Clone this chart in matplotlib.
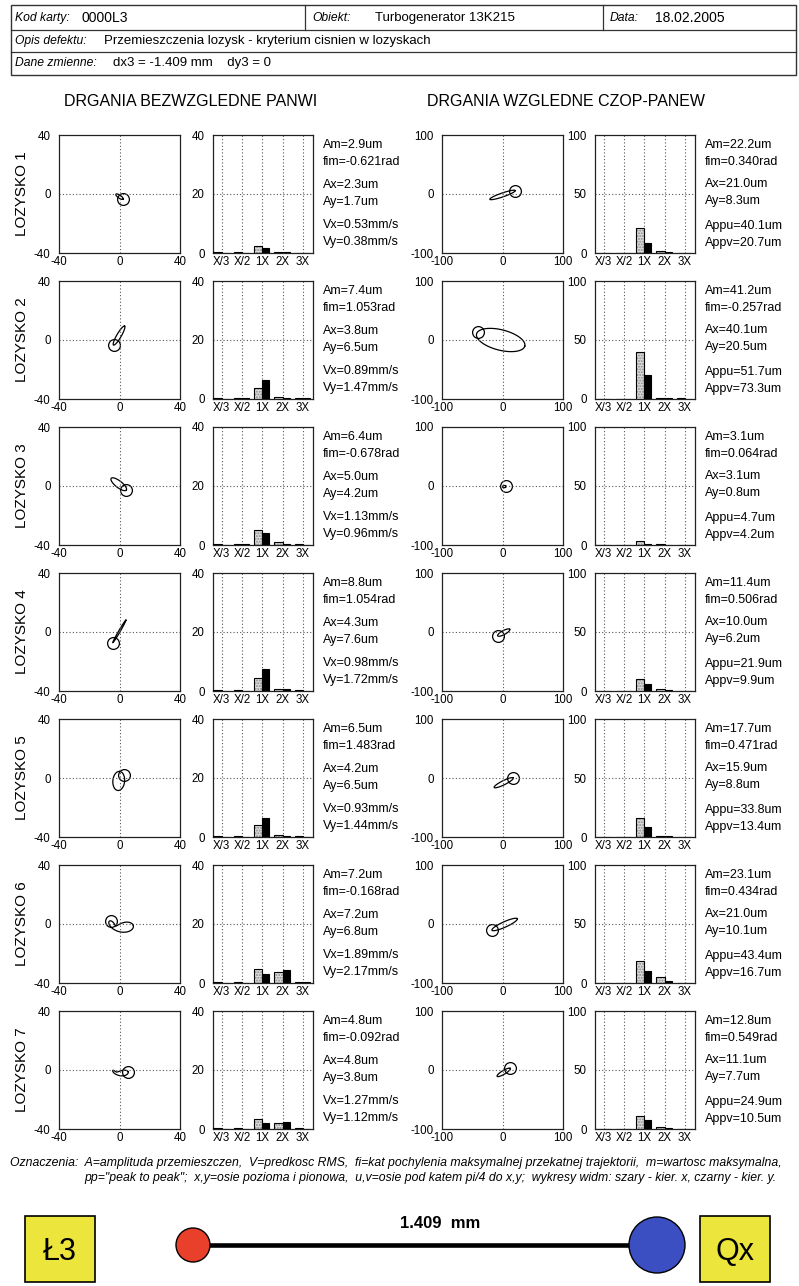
import numpy as np
import matplotlib
matplotlib.use("Agg")
import matplotlib.pyplot as plt
from matplotlib.patches import Rectangle, Circle

plt.rcParams['font.family'] = ['Liberation Sans', 'DejaVu Sans']
plt.rcParams['axes.unicode_minus'] = False

W, H = 799, 1286

# ---- data -------------------------------------------------------------
bearings = ["LOZYSKO 1", "LOZYSKO 2", "LOZYSKO 3", "LOZYSKO 4",
            "LOZYSKO 5", "LOZYSKO 6", "LOZYSKO 7"]
harmonics = ["X/3", "X/2", "1X", "2X", "3X"]

# absolute bearing-shell vibration
am_abs = [2.9, 7.4, 6.4, 8.8, 6.5, 7.2, 4.8]
fim_abs = [-0.621, 1.053, -0.678, 1.054, 1.483, -0.168, -0.092]
ax_abs = [2.3, 3.8, 5.0, 4.3, 4.2, 7.2, 4.8]
ay_abs = [1.7, 6.5, 4.2, 7.6, 6.5, 6.8, 3.8]
vx_abs = [0.53, 0.89, 1.13, 0.98, 0.93, 1.89, 1.27]
vy_abs = [0.38, 1.47, 0.96, 1.72, 1.44, 2.17, 1.12]

spec_x_abs = [
    [0.2, 0.2, 2.3, 0.3, 0.1],
    [0.2, 0.2, 3.8, 0.8, 0.3],
    [0.2, 0.2, 5.0, 0.9, 0.2],
    [0.2, 0.2, 4.3, 0.6, 0.2],
    [0.2, 0.2, 4.2, 0.6, 0.2],
    [0.2, 0.2, 4.8, 3.6, 0.2],
    [0.2, 0.2, 3.5, 2.2, 0.2],
]
spec_y_abs = [
    [0.1, 0.1, 1.7, 0.2, 0.1],
    [0.1, 0.2, 6.5, 0.5, 0.2],
    [0.1, 0.2, 4.2, 0.4, 0.1],
    [0.1, 0.1, 7.6, 0.8, 0.1],
    [0.1, 0.1, 6.5, 0.4, 0.1],
    [0.1, 0.1, 3.1, 4.5, 0.2],
    [0.1, 0.1, 2.0, 2.3, 0.1],
]

# orbit geometry (absolute): centre, minor/major ratio, key-phasor phase, 2X radius
orb_cx_abs = [0.0, -0.3, -0.5, -0.1, -0.5, 0.0, 0.0]
orb_cy_abs = [-1.8, 3.0, 1.2, 0.4, -2.0, -1.0, -1.5]
orb_ratio_abs = [0.35, 0.2, 0.35, 0.06, 0.6, 0.25, 0.25]
orb_key_abs = [0.0, np.pi, 0.0, np.pi, -0.9, np.pi, 0.0]
orb_h2_abs = [0.0, 0.0, 0.0, 0.0, 0.0, 2.5, 1.2]

# relative shaft-bearing vibration
am_rel = [22.2, 41.2, 3.1, 11.4, 17.7, 23.1, 12.8]
fim_rel = [0.340, -0.257, 0.064, 0.506, 0.471, 0.434, 0.549]
ax_rel = [21.0, 40.1, 3.1, 10.0, 15.9, 21.0, 11.1]
ay_rel = [8.3, 20.5, 0.8, 6.2, 8.8, 10.1, 7.7]
appu_rel = [40.1, 51.7, 4.7, 21.9, 33.8, 43.4, 24.9]
appv_rel = [20.7, 73.3, 4.2, 9.9, 13.4, 16.7, 10.5]

spec_x_rel = [
    [0.3, 0.3, 21.0, 1.5, 0.3],
    [0.3, 0.3, 40.1, 1.0, 0.5],
    [0.3, 0.3, 3.1, 0.5, 0.3],
    [0.3, 0.3, 10.0, 1.5, 0.3],
    [0.3, 0.3, 15.9, 1.2, 0.3],
    [0.3, 0.3, 18.5, 5.4, 0.3],
    [0.3, 0.3, 11.1, 2.0, 0.3],
]
spec_y_rel = [
    [0.2, 0.2, 8.3, 0.5, 0.2],
    [0.2, 0.3, 20.5, 0.5, 0.3],
    [0.2, 0.2, 0.8, 0.3, 0.2],
    [0.2, 0.2, 6.2, 0.8, 0.2],
    [0.2, 0.2, 8.8, 0.5, 0.2],
    [0.2, 0.2, 10.0, 1.8, 0.2],
    [0.2, 0.2, 7.7, 0.5, 0.2],
]

orb_cx_rel = [0.0, -3.0, 3.0, 2.0, 2.0, 3.5, 2.0]
orb_cy_rel = [-1.6, 0.0, -1.0, -1.0, -8.0, -0.8, -4.0]
orb_ratio_rel = [0.15, 0.42, 0.6, 0.3, 0.2, 0.2, 0.25]
orb_key_rel = [0.0, 2.9, 0.0, np.pi, 0.0, np.pi, 0.0]
orb_h2_rel = [0.0, 0.0, 0.0, 0.0, 0.0, 0.0, 0.0]

header_card = "0000L3"
header_object = "Turbogenerator 13K215"
header_date = "18.02.2005"
header_defect = "Przemieszczenia lozysk - kryterium cisnien w lozyskach"
header_vars = "dx3 = -1.409 mm    dy3 = 0"
shift_label = "1.409  mm"

# ---- helpers -----------------------------------------------------------
fig = plt.figure(figsize=(W / 100, H / 100), dpi=100)
fig.patch.set_facecolor("white")


def px_axes(x0, y0, w, h):
    return fig.add_axes([x0 / W, 1 - (y0 + h) / H, w / W, h / H])


def style_axes(ax):
    for sp in ax.spines.values():
        sp.set_linewidth(0.9)
        sp.set_color("#222222")
    ax.tick_params(length=0, labelsize=8.3, pad=2)
    ax.tick_params(axis="y", pad=6)


def orbit(ax, lim, am, fim, cx, cy, ratio, key, h2):
    t = np.linspace(0, 2 * np.pi, 400)
    a = am
    b = am * ratio
    c, s = np.cos(fim), np.sin(fim)
    ex = a * np.cos(t)
    ey = b * np.sin(t)
    x = cx + ex * c - ey * s + h2 * np.cos(2 * t + 0.8)
    y = cy + ex * s + ey * c + h2 * np.sin(2 * t + 0.8)
    ax.plot(x, y, color="black", lw=0.9)
    kx = cx + a * np.cos(key) * c - b * np.sin(key) * s + h2 * np.cos(2 * key + 0.8)
    ky = cy + a * np.cos(key) * s + b * np.sin(key) * c + h2 * np.sin(2 * key + 0.8)
    ax.plot([kx], [ky], marker="o", ms=8.5, mfc="none", mec="black", mew=0.9)
    ax.set_xlim(-lim, lim)
    ax.set_ylim(-lim, lim)
    ax.set_xticks([-lim, 0, lim])
    ax.set_yticks([-lim, 0, lim])
    ax.axhline(0, color="#555555", lw=0.8, ls=(0, (1, 2)))
    ax.axvline(0, color="#555555", lw=0.8, ls=(0, (1, 2)))
    style_axes(ax)


def spectrum(ax, top, gx, gy):
    pos = np.arange(1, len(harmonics) + 1)
    for p in pos:
        ax.axvline(p, color="#555555", lw=0.8, ls=(0, (1, 2)), zorder=0)
    ax.axhline(top / 2, color="#555555", lw=0.8, ls=(0, (1, 2)), zorder=0)
    ax.bar(pos - 0.2, gx, width=0.4, color="#dedede", edgecolor="#8a8a8a",
           hatch="......", lw=0, zorder=2)
    ax.bar(pos - 0.2, gx, width=0.4, color="none", edgecolor="black", lw=0.8, zorder=3)
    ax.bar(pos + 0.175, gy, width=0.35, color="black", edgecolor="black", lw=0.8, zorder=3)
    ax.set_xlim(0.58, 5.5)
    ax.set_ylim(0, top)
    ax.set_xticks(pos)
    ax.set_xticklabels(harmonics)
    ax.set_yticks([0, top / 2, top])
    ax.set_yticklabels([f"{v:g}" for v in [0, top / 2, top]])
    style_axes(ax)


# ---- panel grid --------------------------------------------------------
row_top0, row_step, ah = 135, 146, 118
for i in range(7):
    top = row_top0 + i * row_step

    a1 = px_axes(59, top, 121, ah)
    orbit(a1, 40, am_abs[i], fim_abs[i], orb_cx_abs[i], orb_cy_abs[i],
          orb_ratio_abs[i], orb_key_abs[i], orb_h2_abs[i])
    a2 = px_axes(213, top, 100, ah)
    spectrum(a2, 40, spec_x_abs[i], spec_y_abs[i])

    a3 = px_axes(442, top, 121, ah)
    orbit(a3, 100, am_rel[i], fim_rel[i], orb_cx_rel[i], orb_cy_rel[i],
          orb_ratio_rel[i], orb_key_rel[i], orb_h2_rel[i])
    a4 = px_axes(595, top, 100, ah)
    spectrum(a4, 100, spec_x_rel[i], spec_y_rel[i])

    fig.text(22 / W, 1 - (top + ah / 2) / H, bearings[i], rotation=90,
             ha="center", va="center", fontsize=11)

    left_lines = [(10, f"Am={am_abs[i]:.1f}um"), (27, f"fim={fim_abs[i]:.3f}rad"),
                  (50, f"Ax={ax_abs[i]:.1f}um"), (67, f"Ay={ay_abs[i]:.1f}um"),
                  (90, f"Vx={vx_abs[i]:.2f}mm/s"), (107, f"Vy={vy_abs[i]:.2f}mm/s")]
    for dy, s in left_lines:
        fig.text(323 / W, 1 - (top + dy) / H, s, ha="left", va="center", fontsize=9)
    right_lines = [(10, f"Am={am_rel[i]:.1f}um"), (27, f"fim={fim_rel[i]:.3f}rad"),
                   (49, f"Ax={ax_rel[i]:.1f}um"), (66, f"Ay={ay_rel[i]:.1f}um"),
                   (91, f"Appu={appu_rel[i]:.1f}um"), (108, f"Appv={appv_rel[i]:.1f}um")]
    for dy, s in right_lines:
        fig.text(705 / W, 1 - (top + dy) / H, s, ha="left", va="center", fontsize=9)

# ---- overlay in pixel coordinates --------------------------------------
ov = fig.add_axes([0, 0, 1, 1], zorder=-1)
ov.set_xlim(0, W)
ov.set_ylim(H, 0)
ov.axis("off")

# header table
lc = "#333333"
ov.add_patch(Rectangle((11, 5), 785, 70, fill=False, lw=1.0, ec=lc))
ov.plot([11, 796], [30, 30], color=lc, lw=0.9)
ov.plot([11, 796], [52, 52], color=lc, lw=0.9)
ov.plot([305, 305], [5, 30], color=lc, lw=0.9)
ov.plot([603, 603], [5, 30], color=lc, lw=0.9)

ov.text(15, 18, "Kod karty:", fontsize=8.7, style="italic", va="center")
ov.text(82, 18, header_card, fontsize=10, va="center")
ov.text(312, 18, "Obiekt:", fontsize=8.7, style="italic", va="center")
ov.text(375, 18, header_object, fontsize=9.5, va="center")
ov.text(610, 18, "Data:", fontsize=8.7, style="italic", va="center")
ov.text(655, 18, header_date, fontsize=10, va="center")
ov.text(15, 41, "Opis defektu:", fontsize=8.7, style="italic", va="center")
ov.text(104, 41, header_defect, fontsize=9.5, va="center")
ov.text(15, 63, "Dane zmienne:", fontsize=8.7, style="italic", va="center")
ov.text(113, 63, header_vars, fontsize=9.5, va="center")

# section titles
ov.text(191, 102, "DRGANIA BEZWZGLEDNE PANWI", fontsize=11.5, ha="center", va="center")
ov.text(566, 102, "DRGANIA WZGLEDNE CZOP-PANEW", fontsize=11.5, ha="center", va="center")

# legend notes
ov.text(10, 1163, "Oznaczenia:  A=amplituda przemieszczen,  V=predkosc RMS,  "
        "fi=kat pochylenia maksymalnej przekatnej trajektorii,  m=wartosc maksymalna,",
        fontsize=8.8, style="italic", va="center")
ov.text(84, 1178, "pp=\"peak to peak\";  x,y=osie pozioma i pionowa,  u,v=osie pod katem pi/4 do x,y;  "
        "wykresy widm: szary - kier. x, czarny - kier. y.",
        fontsize=8.8, style="italic", va="center")

# shift diagram
yellow = "#ece53c"
ov.add_patch(Rectangle((25, 1216), 70, 66, fc=yellow, ec="black", lw=1.2))
ov.add_patch(Rectangle((700, 1216), 70, 66, fc=yellow, ec="black", lw=1.2))
ov.text(60, 1252, "Ł3", fontsize=22, ha="center", va="center")
ov.text(735, 1252, "Qx", fontsize=22, ha="center", va="center")
ov.plot([193, 657], [1245, 1245], color="black", lw=3.3, zorder=2)
ov.add_patch(Circle((193, 1245), 17, fc="#e8402a", ec="black", lw=1.0, zorder=3))
ov.add_patch(Circle((657, 1245), 28, fc="#3b4fc2", ec="black", lw=1.0, zorder=3))
ov.text(440, 1224, shift_label, fontsize=12, fontweight="bold", ha="center", va="center")

fig.savefig("out.png", dpi=100, facecolor="white")
